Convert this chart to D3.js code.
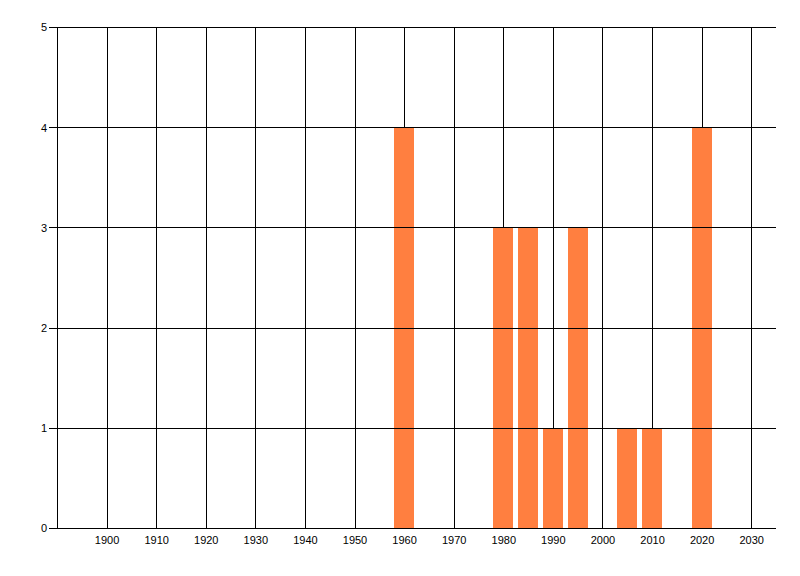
<!DOCTYPE html>
<html>
<head>
<meta charset="utf-8">
<script src="https://cdn.jsdelivr.net/npm/d3@7/dist/d3.min.js"></script>
<style>
  html, body { margin: 0; padding: 0; background: #ffffff; }
  svg { display: block; }
  text { font-family: "Liberation Sans", Arial, sans-serif; font-size: 11px; fill: #000; }
</style>
</head>
<body>
<svg id="chart" width="800" height="576"></svg>
<script>
// Data
const years = [1960, 1980, 1985, 1990, 1995, 2005, 2010, 2020];
const counts = [4, 3, 3, 1, 3, 1, 1, 4];
const xTickValues = [1900, 1910, 1920, 1930, 1940, 1950, 1960, 1970, 1980, 1990, 2000, 2010, 2020, 2030];
const yTickValues = [0, 1, 2, 3, 4, 5];
const xDomain = [1890, 2035];
const yDomain = [0, 5];

(function () {
const svg = d3.select("#chart");
const mLeft = 57, mRight = 776, mTop = 27, mBottom = 528;

const x = d3.scaleLinear().domain(xDomain).range([mLeft, mRight]);
const y = d3.scaleLinear().domain(yDomain).range([mBottom, mTop]);
const px = v => Math.round(v) + 0.5;

// Vertical grid lines
svg.append("g").selectAll("line").data(xTickValues).join("line")
  .attr("x1", d => px(x(d))).attr("x2", d => px(x(d)))
  .attr("y1", mTop).attr("y2", mBottom)
  .attr("stroke", "#000").attr("stroke-width", 1);

// Bars
const barHalf = 2;
svg.append("g").selectAll("rect").data(years.map((yr, i) => ({yr, v: counts[i]}))).join("rect")
  .attr("x", d => Math.round(x(d.yr - barHalf)))
  .attr("width", d => Math.round(x(d.yr + barHalf)) - Math.round(x(d.yr - barHalf)))
  .attr("y", d => Math.round(y(d.v)))
  .attr("height", d => Math.round(y(0)) - Math.round(y(d.v)))
  .attr("fill", "#FF7F40");

// Horizontal grid lines (with left ticks)
svg.append("g").selectAll("line").data(yTickValues).join("line")
  .attr("x1", mLeft - 8).attr("x2", mRight)
  .attr("y1", d => px(y(d))).attr("y2", d => px(y(d)))
  .attr("stroke", "#000").attr("stroke-width", 1);

// Y axis line
svg.append("line")
  .attr("x1", px(mLeft)).attr("x2", px(mLeft))
  .attr("y1", mTop).attr("y2", mBottom + 1)
  .attr("stroke", "#000").attr("stroke-width", 1);

// Y labels
svg.append("g").selectAll("text").data(yTickValues).join("text")
  .attr("x", mLeft - 10).attr("y", d => y(d) + 0.5)
  .attr("dy", "0.35em")
  .attr("text-anchor", "end")
  .text(d => d);

// X labels
svg.append("g").selectAll("text").data(xTickValues).join("text")
  .attr("x", d => x(d) + 0.5).attr("y", mBottom + 15.5)
  .attr("text-anchor", "middle")
  .text(d => d);
})();
</script>
</body>
</html>
